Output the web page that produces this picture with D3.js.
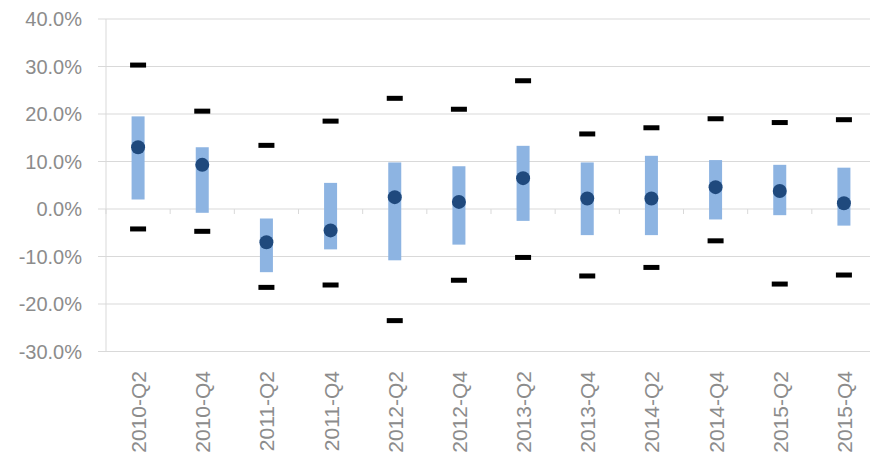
<!DOCTYPE html>
<html><head><meta charset="utf-8">
<script src="https://cdn.jsdelivr.net/npm/d3@7"></script>
<style>body{margin:0;background:#fff}</style>
</head><body><svg id="c" width="870" height="467"></svg>
<script>
const categories = ["2010-Q2","2010-Q4","2011-Q2","2011-Q4","2012-Q2","2012-Q4","2013-Q2","2013-Q4","2014-Q2","2014-Q4","2015-Q2","2015-Q4"];
const maxVals = [30.3,20.6,13.4,18.5,23.3,21.0,27.0,15.8,17.1,19.0,18.2,18.8];
const minVals = [-4.2,-4.7,-16.5,-16.0,-23.5,-15.0,-10.2,-14.1,-12.3,-6.7,-15.8,-13.9];
const barLow = [2.0,-0.8,-13.3,-8.5,-10.8,-7.5,-2.5,-5.5,-5.5,-2.2,-1.3,-3.5];
const barHigh = [19.5,13.0,-2.0,5.5,9.8,9.0,13.3,9.8,11.2,10.3,9.3,8.7];
const midVals = [13.0,9.3,-7.0,-4.5,2.5,1.5,6.5,2.2,2.2,4.6,3.8,1.2];
const yTicks = [-30,-20,-10,0,10,20,30,40];

const svg = d3.select("#c");
const x = d3.scaleBand().domain(categories).range([106, 876]);
const y = d3.scaleLinear().domain([-30, 40]).range([351.5, 19]);
const font = "'Liberation Sans', Arial, sans-serif";

// gridlines
svg.selectAll(".grid").data(yTicks).join("line")
  .attr("x1", 98).attr("x2", 870)
  .attr("y1", d => y(d)).attr("y2", d => y(d))
  .attr("stroke", "#d9d9d9").attr("stroke-width", 1);
svg.append("line").attr("x1", 106).attr("x2", 106).attr("y1", y(40)).attr("y2", y(-30)).attr("stroke", "#d9d9d9");

// category ticks along 0 line
svg.selectAll(".ct").data(d3.range(categories.length + 1)).join("line")
  .attr("x1", i => 106 + i * x.step()).attr("x2", i => 106 + i * x.step())
  .attr("y1", y(0)).attr("y2", y(0) + 5).attr("stroke", "#d9d9d9");

svg.selectAll(".yl").data(yTicks).join("text")
  .attr("x", 82).attr("y", d => y(d)).attr("dy", "0.36em")
  .attr("text-anchor", "end").attr("fill", "#8c8c8c")
  .style("font", "20px " + font).text(d => d.toFixed(1) + "%");

const cx = i => x(categories[i]) + x.bandwidth() / 2;

svg.selectAll(".bar").data(categories).join("rect")
  .attr("x", (d, i) => cx(i) - 6.5).attr("width", 13)
  .attr("y", (d, i) => y(barHigh[i])).attr("height", (d, i) => y(barLow[i]) - y(barHigh[i]))
  .attr("fill", "#8db4e2");

[maxVals, minVals].forEach(vals => {
  svg.selectAll(null).data(vals).join("rect")
    .attr("x", (d, i) => cx(i) - 8).attr("width", 16)
    .attr("y", d => y(d) - 2.5).attr("height", 5).attr("fill", "#000");
});

svg.selectAll(".dot").data(midVals).join("circle")
  .attr("cx", (d, i) => cx(i)).attr("cy", d => y(d)).attr("r", 7)
  .attr("fill", "#1f497d");

svg.selectAll(".xl").data(categories).join("text")
  .attr("transform", (d, i) => `translate(${cx(i) + 8},371) rotate(-90)`)
  .attr("text-anchor", "end").attr("fill", "#8c8c8c")
  .style("font", "21px " + font).text(d => d);
</script></body></html>
